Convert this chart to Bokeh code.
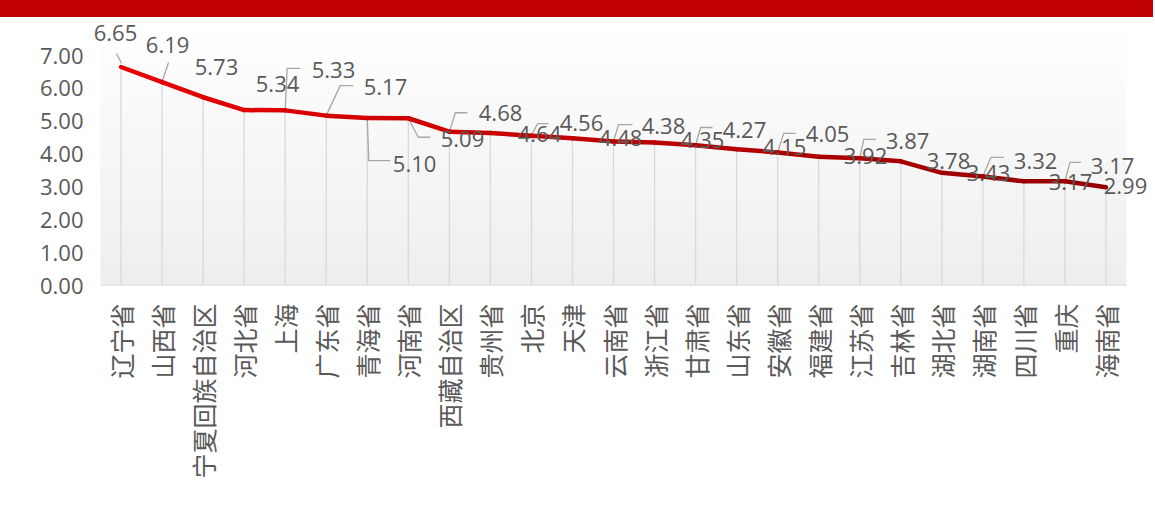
import numpy as np
from bokeh.plotting import figure
from bokeh.models import Range1d, FixedTicker, NumeralTickFormatter, Div
from bokeh.layouts import column
from bokeh.embed import file_html
from bokeh.resources import INLINE
from bokeh.core.properties import value

# ---------------- data ----------------
provinces = ["辽宁省", "山西省", "宁夏回族自治区", "河北省", "上海", "广东省", "青海省",
             "河南省", "西藏自治区", "贵州省", "北京", "天津", "云南省", "浙江省",
             "甘肃省", "山东省", "安徽省", "福建省", "江苏省", "吉林省", "湖北省",
             "湖南省", "四川省", "重庆", "海南省"]
rates = [6.65, 6.19, 5.73, 5.34, 5.33, 5.17, 5.10, 5.09, 4.68, 4.64, 4.56, 4.48,
         4.38, 4.35, 4.27, 4.15, 4.05, 3.92, 3.87, 3.78, 3.43, 3.32, 3.17, 3.17, 2.99]
y_ticks = [0, 1, 2, 3, 4, 5, 6, 7]

# ---------------- layout / style ----------------
W = 1153
BAND_H = 17
H = 500
PAD_L = 15                 # frame space left of first category slot
BL, BR, BT = 85, 6, 5
FRAME_W = W - BL - BR
FRAME_H = 263
BB = H - BT - FRAME_H
PX_CAT = 41.04             # pixels per category
PX_UNIT = 32.857           # pixels per y unit
n = len(provinces)
xs = list(range(n))
x_start = -0.5 - PAD_L / PX_CAT
x_end = x_start + FRAME_W / PX_CAT
y_end = FRAME_H / PX_UNIT

# label offsets (pixels) relative to each point
label_dx = [-5.5, 5.5, 13.4, 33.4, 48.3, 59.3, 47.3, 54.2, 51.2, 49.1, 50.1, 48.1,
            50, 48, 48.9, 47.9, 49.9, 46.8, 47.8, 47.7, 46.7, 52.7, 46.6, 47.6, 19.5]
label_dy = [-34.5, -37.6, -30.7, -26.5, -39.9, -29.1, 45.6, 21.2, -19.2, 0.5, -12.2, -0.8,
            -15.1, -2.1, -15.7, -2.6, -18.9, -1.2, -17.8, -0.8, -0.3, -15.9, 0.2, -15.8, -0.8]
# leader line shapes (pixel offsets from point)
leaders = {
    0: [(0.5, -3.5), (-4.5, -13.5)],
    1: [(0.5, -1.6), (6.5, -19.6)],
    4: [(0, 0), (2, -42), (15, -42)],
    5: [(0, 0), (14, -30), (27, -30)],
    6: [(0, 0), (1.5, 42.6), (23, 42.6)],
    7: [(0, 0), (10, 19), (22, 19)],
    8: [(0, 0), (6, -19), (18, -19)],
    10: [(0, 0), (6, -12), (17, -12)],
    12: [(0, 0), (5, -17), (19, -17)],
    14: [(0, 0), (5, -17.7), (17, -17.7)],
    16: [(0, 0), (6, -19), (18, -19)],
    18: [(0, 0), (4, -19), (16, -19)],
    21: [(0, 0), (8, -19), (21, -19)],
    22: [(0, 0), (15, 0)],
    23: [(0, 0), (5, -19), (16, -19)],
}

TEXT = "#595959"

p = figure(width=W, height=H, output_backend="svg", toolbar_location=None,
           x_range=Range1d(x_start, x_end), y_range=Range1d(0, y_end),
           min_border_left=BL, min_border_right=BR, min_border_top=BT,
           min_border_bottom=BB, margin=0)
p.outline_line_color = None
p.xgrid.visible = False
p.ygrid.visible = False
p.background_fill_color = "white"
p.border_fill_color = "white"

# background gradient of the plot area
nr = 128
img = np.empty((nr, 2), dtype=np.uint32)
view = img.view(dtype=np.uint8).reshape((nr, 2, 4))
for r in range(nr):
    t = r / (nr - 1)
    g = int(round(238 + (255 - 238) * t))
    view[r, :, 0] = g
    view[r, :, 1] = g
    view[r, :, 2] = g
    view[r, :, 3] = 255
p.image_rgba(image=[img], x=-0.5, y=0, dw=n, dh=y_end)

# drop lines
p.segment(x0=xs, y0=[0] * n, x1=xs, y1=rates, line_color="#d9d9d9", line_width=1.3)
# category axis base line
p.segment(x0=[-0.5], y0=[0], x1=[-0.5 + n], y1=[0], line_color="#d9d9d9", line_width=2)

# leader lines
lx, ly = [], []
for i, pts in leaders.items():
    lx.append([xs[i] + dx / PX_CAT for dx, dy in pts])
    ly.append([rates[i] - dy / PX_UNIT for dx, dy in pts])
p.multi_line(xs=lx, ys=ly, line_color="#a6a6a6", line_width=1.3)

# main line with colour gradient from bright red to dark red
c0 = np.array([0xe6, 0x00, 0x00])
c1 = np.array([0x96, 0x00, 0x00])
seg_colors = []
for i in range(n - 1):
    t = i / (n - 2)
    c = (c0 + (c1 - c0) * t).round().astype(int)
    seg_colors.append("#%02x%02x%02x" % tuple(c))
p.segment(x0=xs[:-1], y0=rates[:-1], x1=xs[1:], y1=rates[1:],
          line_color=seg_colors, line_width=4.5, line_cap="round", line_join="round")

# data labels
p.text(x=xs, y=rates, text=["%.2f" % v for v in rates],
       x_offset=label_dx, y_offset=label_dy,
       text_font=value("Open Sans"), text_font_size="22px", text_color=TEXT,
       text_align="center", text_baseline="middle")

# axes
p.yaxis.ticker = FixedTicker(ticks=y_ticks)
p.yaxis.formatter = NumeralTickFormatter(format="0.00")
p.yaxis.axis_line_color = None
p.yaxis.major_tick_line_color = None
p.yaxis.minor_tick_line_color = None
p.yaxis.major_tick_out = 0
p.yaxis.major_tick_in = 0
p.yaxis.major_label_standoff = 2
p.yaxis.major_label_text_font = "Open Sans"
p.yaxis.major_label_text_font_size = "22px"
p.yaxis.major_label_text_color = TEXT

p.xaxis.ticker = FixedTicker(ticks=xs)
p.xaxis.major_label_overrides = {i: name for i, name in zip(xs, provinces)}
p.xaxis.major_label_orientation = np.pi / 2
p.xaxis.axis_line_color = None
p.xaxis.major_tick_line_color = None
p.xaxis.minor_tick_line_color = None
p.xaxis.major_tick_out = 0
p.xaxis.major_tick_in = 0
p.xaxis.major_label_standoff = 18
p.xaxis.major_label_text_font = "Noto Sans CJK SC"
p.xaxis.major_label_text_font_size = "25px"
p.xaxis.major_label_text_color = TEXT

band = Div(text="", width=W, height=BAND_H, margin=0,
           styles={"background-color": "#c00000"})

layout = column(band, p, spacing=0, margin=0)
open("out.html", "w").write(file_html(layout, INLINE))
